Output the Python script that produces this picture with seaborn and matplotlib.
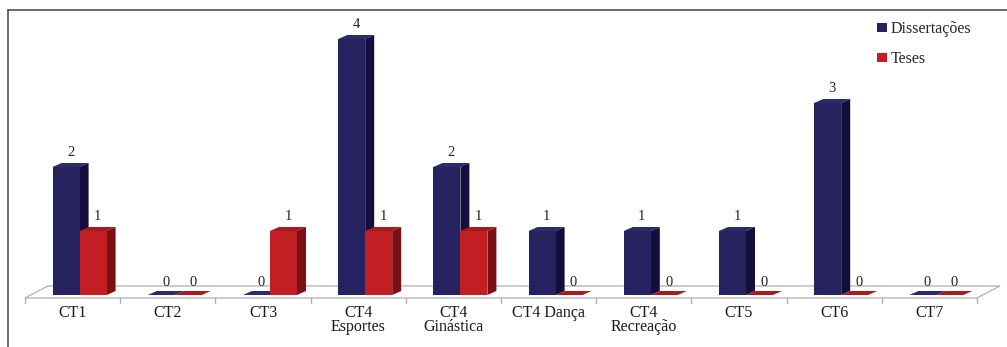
import numpy as np
import pandas as pd
import matplotlib
matplotlib.use("Agg")
import matplotlib.pyplot as plt
import seaborn as sns
from matplotlib.patches import Polygon, Patch
from matplotlib.lines import Line2D
from matplotlib.transforms import ScaledTranslation

# Data
categories = ["CT1", "CT2", "CT3", "CT4\nEsportes", "CT4\nGinástica", "CT4 Dança",
              "CT4\nRecreação", "CT5", "CT6", "CT7"]
dissertacoes = [2, 0, 0, 4, 2, 1, 1, 1, 3, 0]
teses = [1, 0, 1, 1, 1, 0, 0, 0, 0, 0]
series_names = ["Dissertações", "Teses"]

df = pd.DataFrame({
    "categoria": categories * 2,
    "valor": dissertacoes + teses,
    "serie": [series_names[0]] * len(categories) + [series_names[1]] * len(categories),
})

front_colors = {"Dissertações": "#26225f", "Teses": "#c11f24"}
side_colors = {"Dissertações": "#150e3c", "Teses": "#7a1013"}
top_colors = {"Dissertações": "#2d2a6c", "Teses": "#a81a1e"}
series_z = {"Dissertações": 3, "Teses": 4}

sns.set_theme(style="white")
plt.rcParams["font.family"] = ["Liberation Serif", "DejaVu Serif"]

W, H, DPI = 1007, 347, 100
fig = plt.figure(figsize=(W / DPI, H / DPI), dpi=DPI)
ax = fig.add_axes([25 / W, 52 / H, 952 / W, 288 / H])

sns.barplot(data=df, x="categoria", y="valor", hue="serie", order=categories,
            hue_order=series_names, palette=[front_colors[s] for s in series_names],
            width=0.567, saturation=1, gap=0, legend=False, ax=ax)

ax.set_xlim(-0.5, len(categories) - 0.5)
ax.set_ylim(0, 4.5)

# pixel -> data unit conversions for the oblique depth effect
p0 = ax.transData.transform((0, 0))
p1 = ax.transData.transform((1, 1))
ppx, ppy = p1[0] - p0[0], p1[1] - p0[1]
DX, DY = 9 / ppx, 4 / ppy          # bar depth
shift = ScaledTranslation(7 / DPI, 0, fig.dpi_scale_trans)
bar_tr = ax.transData + shift

bars = [p for p in ax.patches]
n = len(categories)

# floor plane
FDX, FDY = 23 / ppx, 12 / ppy
f_front = -3 / ppy
x0, x1 = -0.5, len(categories) - 0.5
floor = Polygon([(x0, f_front), (x1, f_front), (x1 + FDX, f_front + FDY), (x0 + FDX, f_front + FDY)],
                closed=True, facecolor="white", edgecolor="#b8b8b8", lw=1.0, zorder=1,
                clip_on=False)
ax.add_patch(floor)
# boundary tick marks under the floor edge
for b in np.arange(x0, x1 + 0.01, 1.0):
    ax.plot([b, b], [f_front, f_front - 5 / ppy], color="#b0b0b0", lw=1.0, clip_on=False, zorder=1)

for i, p in enumerate(bars):
    serie = series_names[i // n]
    z = series_z[serie]
    x, w, h = p.get_x(), p.get_width(), p.get_height()
    p.set_transform(bar_tr)
    p.set_edgecolor("none")
    p.set_zorder(z + 0.2)
    top = Polygon([(x, h), (x + w, h), (x + w + DX, h + DY), (x + DX, h + DY)], closed=True,
                  facecolor=top_colors[serie], edgecolor="none", transform=bar_tr, zorder=z,
                  clip_on=False)
    ax.add_patch(top)
    if h > 0:
        side = Polygon([(x + w, 0), (x + w + DX, DY), (x + w + DX, h + DY), (x + w, h)], closed=True,
                       facecolor=side_colors[serie], edgecolor="none", transform=bar_tr, zorder=z,
                       clip_on=False)
        ax.add_patch(side)
    lbl_off = 4 / ppy if h > 0 else 2 / ppy
    ax.text(x + w / 2 + DX / 2, h + DY + lbl_off, f"{int(h)}", ha="center", va="bottom",
            fontsize=10.5, color="#222222", transform=bar_tr, zorder=6)

# axis styling
for s in ax.spines.values():
    s.set_visible(False)
ax.set_yticks([])
ax.set_xlabel("")
ax.set_ylabel("")
ax.set_xticks(range(n))
ax.set_xticklabels(categories, fontsize=11.5, color="#1a1a1a", linespacing=0.82)
ax.tick_params(axis="x", length=0, pad=7)

# legend
handles = [Patch(facecolor=front_colors[s], edgecolor="none", label=s) for s in series_names]
fig.legend(handles=handles, loc="upper left", bbox_to_anchor=(871 / W, 1 - 15 / H),
           frameon=False, fontsize=11.5, handlelength=0.6, handleheight=0.45,
           handletextpad=0.25, labelspacing=0.85, borderaxespad=0)

# outer frame
fig.add_artist(Line2D([8 / W, 8 / W], [0, 1 - 10 / H], color="#505050", lw=1.2))
fig.add_artist(Line2D([8 / W, 1], [1 - 10 / H, 1 - 10 / H], color="#505050", lw=1.2))

fig.savefig("out.png", dpi=DPI)
